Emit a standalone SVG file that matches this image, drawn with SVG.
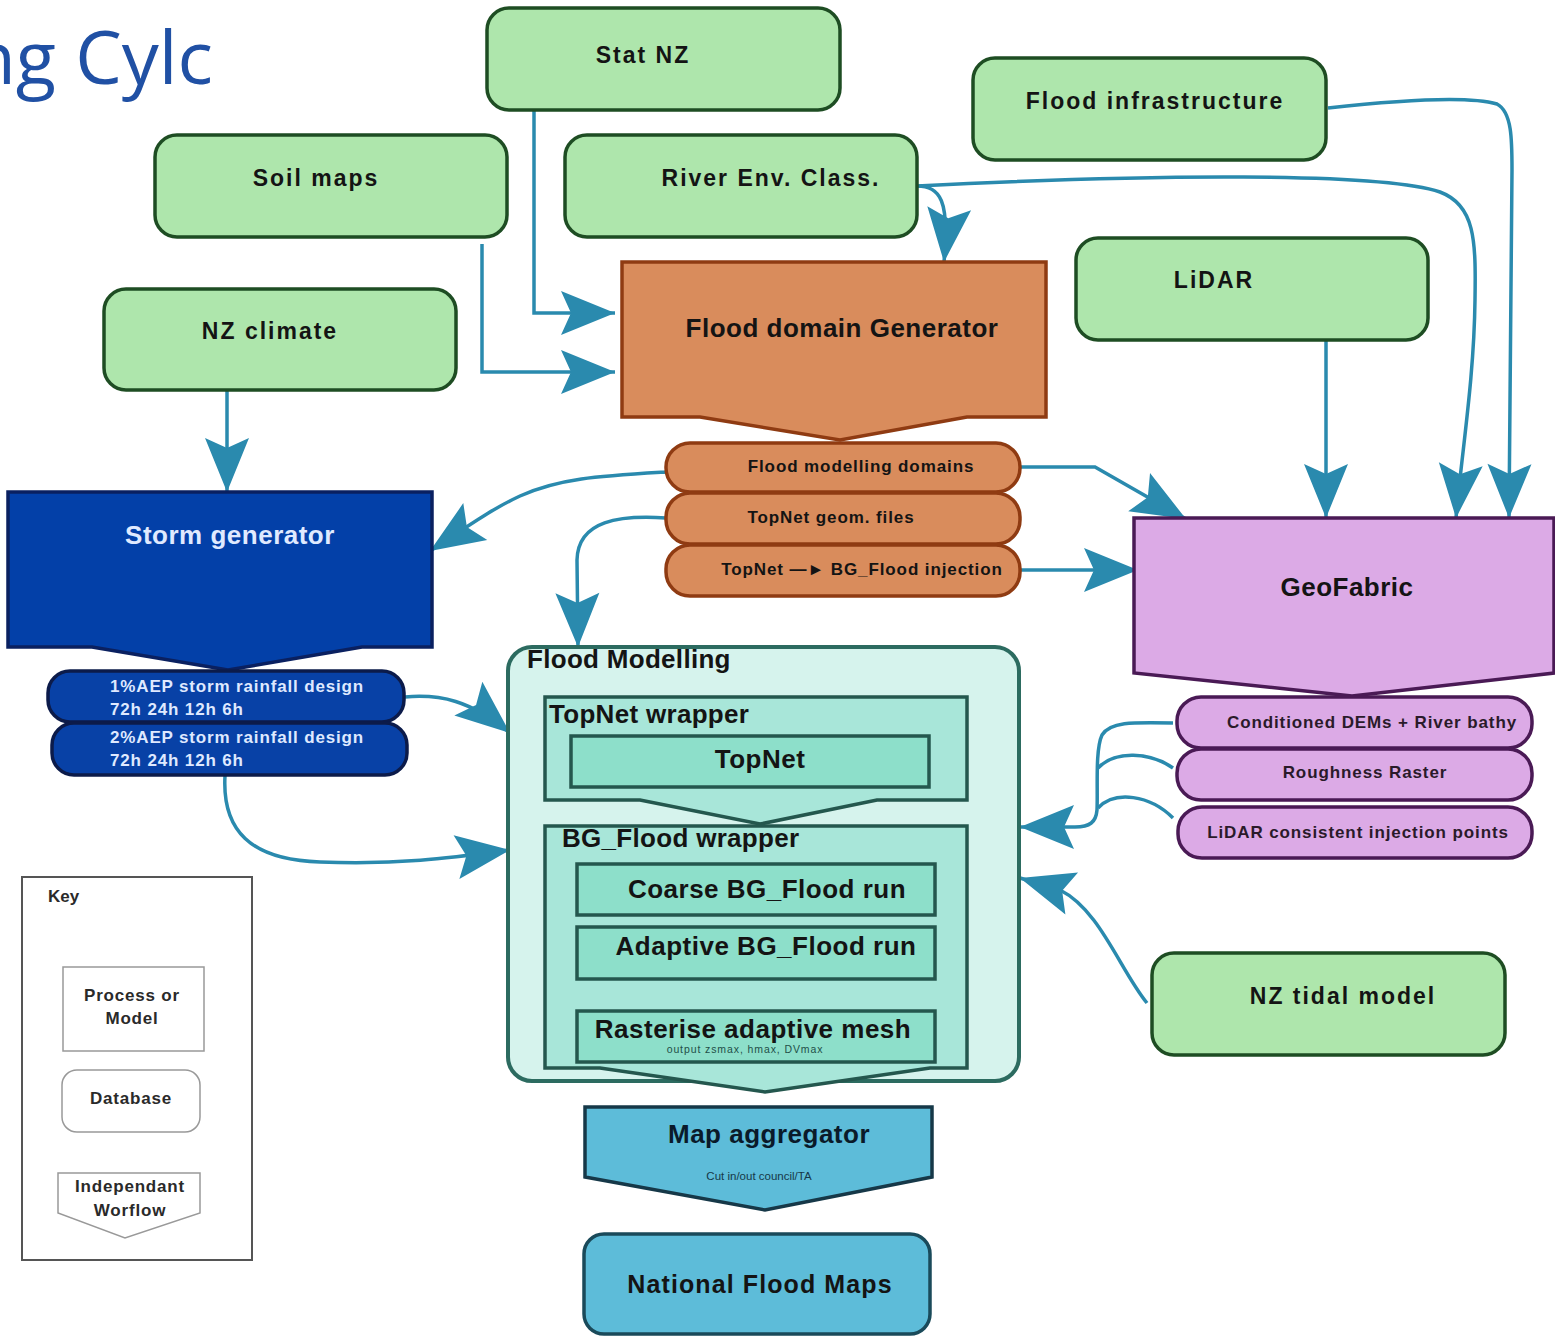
<svg xmlns="http://www.w3.org/2000/svg" width="1555" height="1336" viewBox="0 0 1555 1336">
<defs>
<marker id="ah" markerUnits="userSpaceOnUse" markerWidth="60" markerHeight="50" viewBox="-56 -25 60 50" refX="0" refY="0" orient="auto">
<path d="M0,0 L-54,-22 L-44,0 L-54,22 Z" fill="#2a8aae"/>
</marker>
</defs>
<style>
text{font-family:"Liberation Sans",Arial,sans-serif;font-weight:bold;fill:#141414}
.g rect{fill:#aee6ac;stroke:#1e4d23;stroke-width:3.5}
.g text{font-size:23px;letter-spacing:2px;text-anchor:middle}
.ot{fill:#d98c5c;stroke:#8f3b12;stroke-width:3.5}
.st{fill:#0841a6;stroke:#0c1b4a;stroke-width:3.5}
.pt{fill:#dcaae6;stroke:#4a1a55;stroke-width:3.5}
.tab{font-size:17px;letter-spacing:0.9px;text-anchor:middle}
.stt{font-size:17px;letter-spacing:0.85px;fill:#dfe9ff}
.big{font-size:26px;letter-spacing:0.5px;text-anchor:middle}
.wr{fill:#a8e6d9;stroke:#24574e;stroke-width:3.5}
.in{fill:#8ddfca;stroke:#24574e;stroke-width:3.5}
.blue{fill:#5dbcd9;stroke:#163848;stroke-width:3.5}
.key{fill:#fff;stroke:#999;stroke-width:1.5}
.kt{font-size:17px;letter-spacing:0.8px;text-anchor:middle;fill:#2a2a2a}
#connectors path{fill:none;stroke:#2a8aae;stroke-width:3.5}
</style>

<text x="213" y="84" font-size="74" text-anchor="end" style="font-family:'Open Sans','Noto Sans',sans-serif;font-weight:normal;fill:#2050a4">ng Cylc</text>

<g id="connectors">
<path d="M534,110 L534,313 L615,313" marker-end="url(#ah)"/>
<path d="M482,244 L482,372 L615,372" marker-end="url(#ah)"/>
<path d="M917,186 C940,186 950,200 944,262" marker-end="url(#ah)"/>
<path d="M917,186 C1150,174 1380,172 1440,192 C1475,205 1476,240 1475,300 C1474,380 1462,450 1456,518" marker-end="url(#ah)"/>
<path d="M1328,108 C1400,100 1470,96 1497,104 C1512,112 1512,140 1512,170 L1509,518" marker-end="url(#ah)"/>
<path d="M1326,340 L1326,518" marker-end="url(#ah)"/>
<path d="M1020,467 L1095,467 L1186,519" marker-end="url(#ah)"/>
<path d="M1020,570 L1138,570" marker-end="url(#ah)"/>
<path d="M666,472 C600,476 560,478 520,496 C490,510 470,525 430,551" marker-end="url(#ah)"/>
<path d="M666,518 C620,515 578,520 577,560 L578,647" marker-end="url(#ah)"/>
<path d="M227,390 L227,492" marker-end="url(#ah)"/>
<path d="M405,697 C440,694 470,700 510,733" marker-end="url(#ah)"/>
<path d="M225,776 C222,830 250,860 320,862 C400,865 450,858 510,850" marker-end="url(#ah)"/>
<path d="M1173,723 C1130,722 1110,722 1102,735 C1095,750 1098,790 1097,810 C1096,822 1090,827 1075,827 L1020,827" marker-end="url(#ah)"/>
<path d="M1173,768 C1150,752 1115,750 1098,768"/>
<path d="M1173,818 C1150,795 1115,790 1098,808"/>
<path d="M1147,1003 C1120,970 1100,910 1060,890 L1020,878" marker-end="url(#ah)"/>
</g>

<g id="stat-nz" class="g"><rect x="487" y="8" width="353" height="102" rx="22"/><text x="643" y="63">Stat NZ</text></g>
<g id="soil-maps" class="g"><rect x="155" y="135" width="352" height="102" rx="22"/><text x="316" y="186">Soil maps</text></g>
<g id="river-env" class="g"><rect x="565" y="135" width="352" height="102" rx="22"/><text x="771" y="186">River Env. Class.</text></g>
<g id="flood-infra" class="g"><rect x="973" y="58" width="353" height="102" rx="22"/><text x="1155" y="109">Flood infrastructure</text></g>
<g id="lidar" class="g"><rect x="1076" y="238" width="352" height="102" rx="22"/><text x="1214" y="288">LiDAR</text></g>
<g id="nz-climate" class="g"><rect x="104" y="289" width="352" height="101" rx="22"/><text x="270" y="339">NZ climate</text></g>
<g id="nz-tidal" class="g"><rect x="1152" y="953" width="353" height="102" rx="22"/><text x="1343" y="1004">NZ tidal model</text></g>

<g id="flood-domain-generator">
<path class="ot" d="M622,262 L1046,262 L1046,417 L967,417 L840,440 L700,417 L622,417 Z"/>
<text class="big" x="842" y="337">Flood domain Generator</text>
</g>
<g id="fdg-outputs">
<rect class="ot" x="666" y="443" width="354" height="49" rx="24"/>
<rect class="ot" x="666" y="493" width="354" height="51" rx="24"/>
<rect class="ot" x="666" y="545" width="354" height="51" rx="24"/>
<text class="tab" x="861" y="472">Flood modelling domains</text>
<text class="tab" x="831" y="523">TopNet geom. files</text>
<text class="tab" x="862" y="575">TopNet —► BG_Flood injection</text>
</g>

<g id="storm-generator">
<path class="st" d="M8,492 L432,492 L432,647 L362,647 L228,670 L92,647 L8,647 Z" style="fill:#0340a8;stroke:#0a2060"/>
<text class="big" x="230" y="544" style="fill:#e0eaff">Storm generator</text>
</g>
<g id="storm-outputs">
<rect class="st" x="48" y="671" width="356" height="51" rx="22"/>
<rect class="st" x="52" y="723" width="355" height="52" rx="22"/>
<text class="stt" x="110" y="692">1%AEP storm rainfall design</text>
<text class="stt" x="110" y="715">72h 24h 12h 6h</text>
<text class="stt" x="110" y="743">2%AEP storm rainfall design</text>
<text class="stt" x="110" y="766">72h 24h 12h 6h</text>
</g>

<g id="geofabric">
<path class="pt" d="M1134,518 L1554,518 L1554,673 L1352,696 L1134,673 Z"/>
<text class="big" x="1347" y="596">GeoFabric</text>
</g>
<g id="geofabric-outputs">
<rect class="pt" x="1177" y="697" width="355" height="51" rx="24"/>
<rect class="pt" x="1177" y="749" width="355" height="51" rx="24"/>
<rect class="pt" x="1178" y="807" width="354" height="51" rx="24"/>
<text class="tab" x="1372" y="728" style="fill:#2a1a2a">Conditioned DEMs + River bathy</text>
<text class="tab" x="1365" y="778" style="fill:#2a1a2a">Roughness Raster</text>
<text class="tab" x="1358" y="838" style="fill:#2a1a2a">LiDAR consistent injection points</text>
</g>

<g id="flood-modelling">
<rect x="508" y="647" width="511" height="434" rx="24" style="fill:#d6f3ed;stroke:#2c6b60;stroke-width:4"/>
<text x="527" y="668" style="font-size:26px;letter-spacing:0.3px">Flood Modelling</text>
<g id="topnet-wrapper">
<path class="wr" d="M545,697 L967,697 L967,800 L877,800 L760,824 L640,800 L545,800 Z"/>
<text x="549" y="723" style="font-size:26px;letter-spacing:0.3px">TopNet wrapper</text>
<rect class="in" x="571" y="736" width="358" height="51"/>
<text class="big" x="760" y="768">TopNet</text>
</g>
<g id="bgflood-wrapper">
<path class="wr" d="M545,826 L967,826 L967,1068 L930,1068 L765,1092 L600,1068 L545,1068 Z"/>
<text x="562" y="847" style="font-size:26px;letter-spacing:0.3px">BG_Flood wrapper</text>
<rect class="in" x="577" y="864" width="358" height="51"/>
<text class="big" x="767" y="898">Coarse BG_Flood run</text>
<rect class="in" x="577" y="927" width="358" height="52"/>
<text class="big" x="766" y="955">Adaptive BG_Flood run</text>
<rect class="in" x="577" y="1011" width="358" height="51"/>
<text class="big" x="753" y="1038">Rasterise adaptive mesh</text>
<text x="745" y="1053" style="font-size:10.5px;font-weight:normal;letter-spacing:0.9px;text-anchor:middle;fill:#1f4f48">output zsmax, hmax, DVmax</text>
</g>
</g>

<g id="map-aggregator">
<path class="blue" d="M585,1107 L932,1107 L932,1177 L765,1210 L585,1177 Z"/>
<text class="big" x="769" y="1143" style="fill:#0a1a2a">Map aggregator</text>
<text x="759" y="1180" style="font-size:11.5px;font-weight:normal;text-anchor:middle;fill:#163848">Cut in/out council/TA</text>
</g>

<g id="national-flood-maps">
<rect class="blue" x="584" y="1234" width="346" height="100" rx="20" style="stroke:#1a4a5a"/>
<text x="760" y="1293" style="font-size:25px;letter-spacing:1.1px;text-anchor:middle">National Flood Maps</text>
</g>

<g id="key">
<rect x="22" y="877" width="230" height="383" style="fill:#fff;stroke:#555;stroke-width:2"/>
<text x="48" y="902" style="font-size:17px;fill:#2a2a2a">Key</text>
<rect class="key" x="63" y="967" width="141" height="84"/>
<text class="kt" x="132" y="1001">Process or</text>
<text class="kt" x="132" y="1024">Model</text>
<rect class="key" x="62" y="1070" width="138" height="62" rx="15"/>
<text class="kt" x="131" y="1104">Database</text>
<path class="key" d="M58,1173 L200,1173 L200,1213 L125,1238 L58,1213 Z"/>
<text class="kt" x="130" y="1192">Independant</text>
<text class="kt" x="130" y="1216">Worflow</text>
</g>
</svg>
